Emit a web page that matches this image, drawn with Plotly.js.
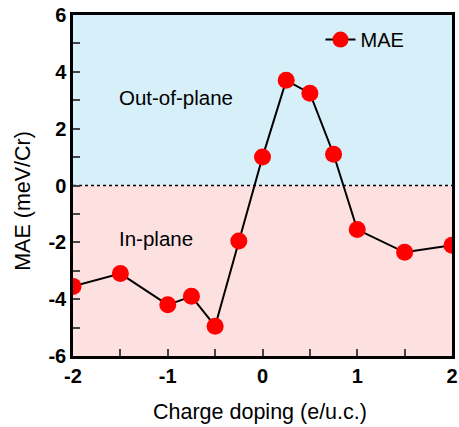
<!DOCTYPE html>
<html><head><meta charset="utf-8">
<script src="https://cdn.plot.ly/plotly-3.0.1.min.js"></script>
<style>body{margin:0;background:#fff}#c{width:459px;height:427px}</style>
</head><body><div id="c"></div>
<script>
const doping = [-2, -1.5, -1, -0.75, -0.5, -0.25, 0, 0.25, 0.5, 0.75, 1, 1.5, 2];
const mae = [-3.55, -3.1, -4.2, -3.9, -4.95, -1.95, 1.0, 3.7, 3.25, 1.1, -1.55, -2.35, -2.1];
const xTicks = [-2, -1, 0, 1, 2];
const xTickText = ['-2', '-1', '0', '1', '2'];
const yTicks = [-6, -4, -2, 0, 2, 4, 6];
const yTickText = ['-6', '-4', '-2', '0', '2', '4', '6'];

const trace = {
  x: doping, y: mae, type: 'scatter', mode: 'lines+markers', name: 'MAE',
  line: {color: '#000', width: 2},
  marker: {color: '#ff0000', size: 17}
};
const tf = {size: 20, family: 'Liberation Sans, Arial', weight: 'bold'};
const layout = {
  width: 459, height: 427,
  margin: {l: 73, r: 7, t: 15, b: 71},
  paper_bgcolor: '#fff', plot_bgcolor: '#fff',
  font: {family: 'Liberation Sans, Arial, sans-serif', color: '#000'},
  xaxis: {
    range: [-2, 2], tickvals: xTicks, ticktext: xTickText, ticks: 'inside', ticklen: 7, tickwidth: 2,
    showline: true, linewidth: 2.5, linecolor: '#000', mirror: true, showgrid: false, zeroline: false,
    tickfont: tf,
    minor: {dtick: 0.5, ticks: 'inside', ticklen: 7, tickwidth: 2, showgrid: false}
  },
  yaxis: {
    range: [-6, 6], tickvals: yTicks, ticktext: yTickText, ticks: 'inside', ticklen: 7, tickwidth: 2,
    showline: true, linewidth: 2.5, linecolor: '#000', mirror: true, showgrid: false, zeroline: false,
    tickfont: tf,
    minor: {dtick: 1, ticks: 'inside', ticklen: 7, tickwidth: 2, showgrid: false}
  },
  shapes: [
    {type: 'rect', xref: 'paper', yref: 'y', x0: 0, x1: 1, y0: 0, y1: 6, fillcolor: '#d6eff9', line: {width: 0}, layer: 'below'},
    {type: 'rect', xref: 'paper', yref: 'y', x0: 0, x1: 1, y0: -6, y1: 0, fillcolor: '#fde0e0', line: {width: 0}, layer: 'below'},
    {type: 'line', xref: 'paper', yref: 'y', x0: 0, x1: 1, y0: 0, y1: 0, line: {color: '#000', width: 1.5, dash: 'dot'}, layer: 'below'}
  ],
  annotations: [
    {text: 'Out-of-plane', xref: 'x', yref: 'y', x: -1.54, y: 3.08, xanchor: 'left', showarrow: false, font: {size: 20.5}},
    {text: 'In-plane', xref: 'x', yref: 'y', x: -1.54, y: -1.85, xanchor: 'left', showarrow: false, font: {size: 20.5}},
    {text: 'Charge doping (e/u.c.)', xref: 'paper', yref: 'paper', x: 0.493, y: -0.164, xanchor: 'center', yanchor: 'middle', showarrow: false, font: {size: 21.5}},
    {text: 'MAE (meV/Cr)', xref: 'paper', yref: 'paper', x: -0.132, y: 0.455, textangle: -90, xanchor: 'center', yanchor: 'middle', showarrow: false, font: {size: 21.5}}
  ],
  showlegend: true,
  legend: {x: 0.653, xanchor: 'left', y: 0.985, yanchor: 'top', bgcolor: 'rgba(0,0,0,0)', font: {size: 20}}
};
Plotly.newPlot('c', [trace], layout, {displayModeBar: false});
</script></body></html>
